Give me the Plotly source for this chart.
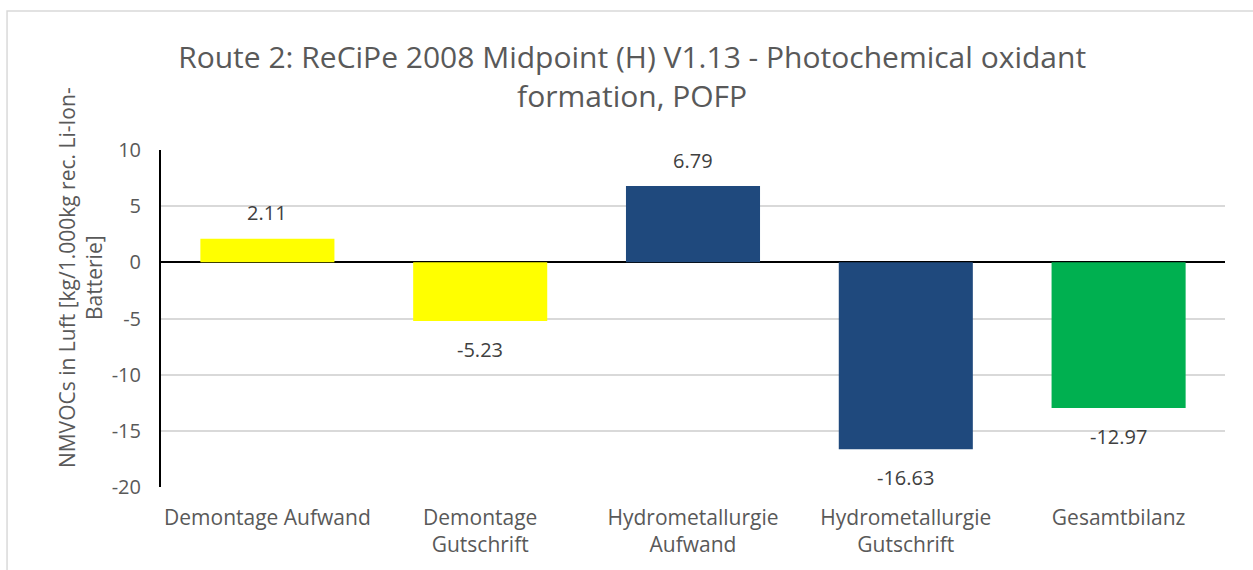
import plotly.graph_objects as go

categories = ["Demontage Aufwand", "Demontage<br>Gutschrift", "Hydrometallurgie<br>Aufwand",
              "Hydrometallurgie<br>Gutschrift", "Gesamtbilanz"]
values = [2.11, -5.23, 6.79, -16.63, -12.97]
bar_colors = ["#FFFF00", "#FFFF00", "#1F497D", "#1F497D", "#00B050"]
y_ticks = [10, 5, 0, -5, -10, -15, -20]

FONT = "Open Sans"

fig = go.Figure(go.Bar(
    x=categories, y=values,
    marker=dict(color=bar_colors, line=dict(width=0)),
    hoverinfo="skip",
))

# value labels above positive bars, below negative bars
for c, v in zip(categories, values):
    fig.add_annotation(
        x=c, y=v, text=f"{v:.2f}", showarrow=False,
        yshift=26 if v >= 0 else -28, yanchor="middle",
        font=dict(family=FONT, size=20, color="#404040"),
    )

# y axis title as rotated two-line text
fig.add_annotation(
    xref="paper", yref="paper", x=-0.0761, y=0.62,
    text="NMVOCs in Luft [kg/1.000kg rec. Li-Ion-<br>Batterie]",
    textangle=-90, showarrow=False, align="center",
    xanchor="center", yanchor="middle",
    font=dict(family=FONT, size=21, color="#595959"),
)

# chart frame
fig.add_shape(type="rect", xref="paper", yref="paper",
              x0=-0.1447, x1=1.2, y0=-0.5, y1=1.4125,
              line=dict(color="#D9D9D9", width=1.5), fillcolor="rgba(0,0,0,0)", layer="below")

fig.update_layout(
    width=1253, height=570,
    margin=dict(l=161, r=28, t=150, b=83),
    paper_bgcolor="white", plot_bgcolor="white",
    bargap=0.37, showlegend=False,
    title=dict(
        text="Route 2: ReCiPe 2008 Midpoint (H) V1.13 - Photochemical oxidant<br>formation, POFP",
        x=0.5045, xanchor="center", y=0.881, yanchor="middle",
        font=dict(family=FONT, size=30, color="#595959"),
    ),
    xaxis=dict(
        showgrid=False, showline=False, ticks="", ticklabelstandoff=16,
        tickfont=dict(family=FONT, size=21, color="#595959"),
    ),
    yaxis=dict(
        range=[-20, 10], tickvals=y_ticks, ticktext=[str(t) for t in y_ticks],
        showgrid=True, gridcolor="#D9D9D9", gridwidth=1.5,
        zeroline=True, zerolinecolor="#000000", zerolinewidth=1.5,
        showline=True, linecolor="#000000", linewidth=2,
        ticks="", ticklabelstandoff=14,
        tickfont=dict(family=FONT, size=20, color="#595959"),
    ),
)

fig.write_html("out.html")
